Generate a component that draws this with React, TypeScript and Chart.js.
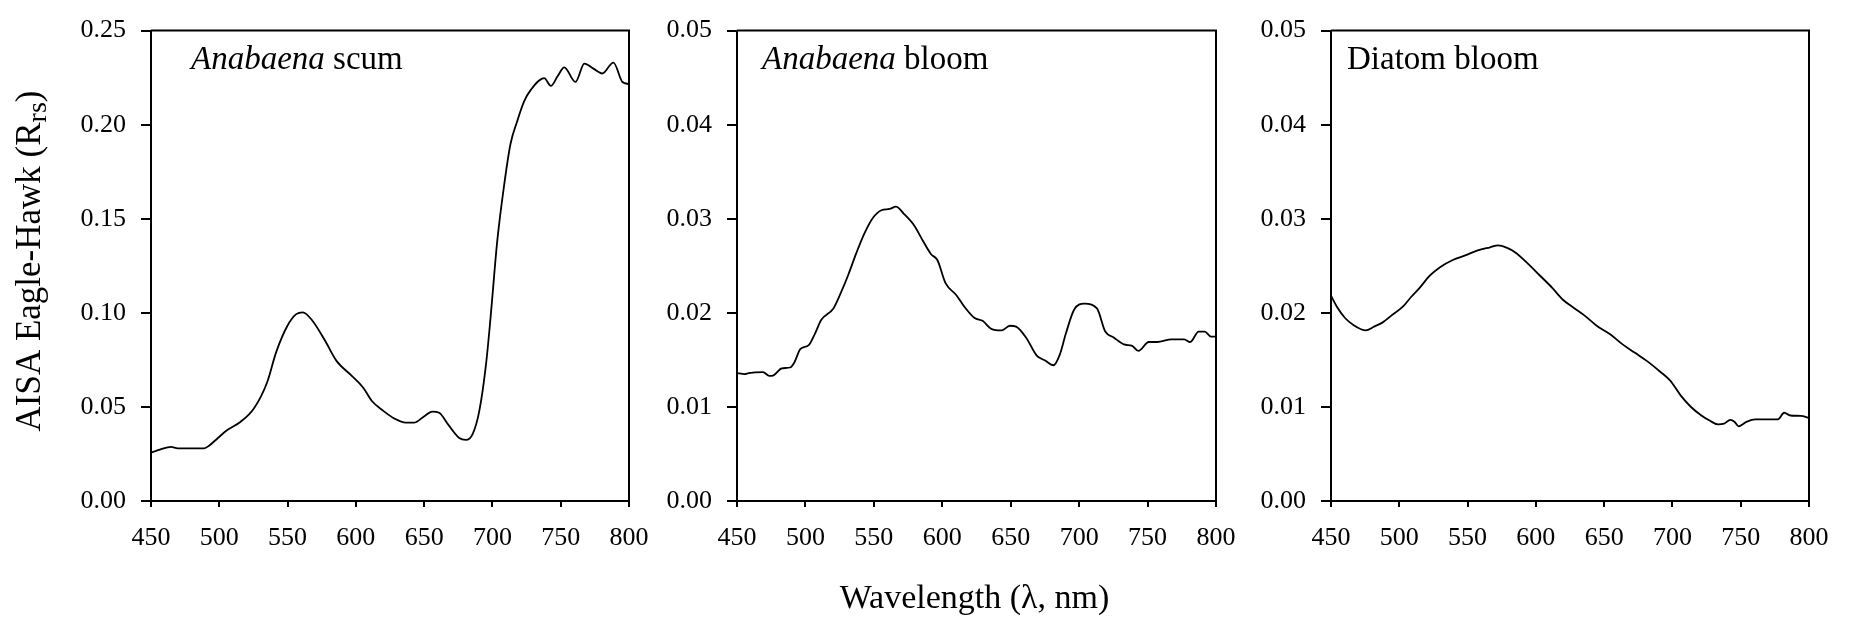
import React, { useEffect, useRef } from 'react';
import { Chart, registerables } from 'chart.js';

Chart.register(...registerables);

// ---------- data ----------
const scumWavelength = [450, 456.5, 464.7, 469.6, 489, 492.5, 499, 505.6, 515.4, 525.2, 535, 541.6, 549.8, 556.3, 561.2, 567.8, 577.6, 585.7, 597.2, 605.4, 611.9, 620.1, 628.3, 636.5, 643, 649.6, 656.1, 661, 667.5, 675.7, 680.6, 685.5, 690.4, 695.3, 698.6, 703.5, 708.4, 713.3, 718.2, 723.2, 728.1, 737.9, 742.8, 747.7, 752.6, 760.8, 767.3, 773.9, 780.4, 788.6, 795.2, 800];
const scumReflectance = [0.0257, 0.0273, 0.0288, 0.028, 0.028, 0.0294, 0.0335, 0.0376, 0.042, 0.049, 0.063, 0.079, 0.093, 0.0993, 0.1003, 0.0962, 0.085, 0.0746, 0.0664, 0.0602, 0.053, 0.0479, 0.0438, 0.0417, 0.0417, 0.0448, 0.0475, 0.0469, 0.0407, 0.0335, 0.0325, 0.0356, 0.0479, 0.0726, 0.0972, 0.138, 0.167, 0.19, 0.202, 0.2124, 0.2185, 0.2247, 0.2206, 0.2257, 0.2305, 0.2227, 0.2325, 0.2298, 0.2272, 0.233, 0.2227, 0.2216];

const anabaenaBloomWavelength = [450, 455.5, 458.5, 469, 473.6, 476.7, 482.7, 488.8, 491.8, 496.4, 502.4, 507, 511.5, 520.6, 525.2, 531.2, 537.3, 543.3, 549.4, 555.5, 561.5, 566.1, 572.1, 579.7, 585.8, 591.8, 596.4, 602.4, 610, 616, 623.6, 629.7, 635.8, 643.3, 649.4, 653.9, 661.5, 669, 675.2, 681.2, 685.8, 690.3, 696.4, 704, 713, 719.1, 725.2, 732.7, 738.8, 743.3, 750.9, 757, 767.6, 776.7, 781.2, 787.3, 791.8, 796.4, 800];
const anabaenaBloomReflectance = [0.0136, 0.01349, 0.0136, 0.0137, 0.0133, 0.01336, 0.0141, 0.01419, 0.0147, 0.01616, 0.01657, 0.0178, 0.01924, 0.0205, 0.0219, 0.024, 0.0264, 0.0285, 0.0301, 0.0309, 0.03104, 0.03129, 0.0305, 0.02924, 0.02767, 0.02623, 0.02562, 0.02315, 0.02192, 0.02068, 0.01945, 0.01912, 0.0183, 0.01813, 0.01863, 0.01854, 0.01731, 0.01546, 0.01493, 0.01443, 0.01554, 0.0178, 0.02035, 0.02097, 0.02048, 0.01801, 0.01739, 0.01665, 0.01649, 0.01595, 0.0169, 0.0169, 0.01719, 0.01719, 0.0169, 0.01801, 0.01801, 0.01748, 0.01748];

const diatomBloomWavelength = [450, 454.2, 460.3, 466.4, 475.5, 481.5, 487.6, 493.7, 502.8, 508.8, 514.9, 522.5, 530.1, 539.2, 548.3, 557.4, 566.5, 572.5, 578.6, 584.7, 593.8, 602.9, 612, 619.6, 627.1, 636.2, 645.3, 654.4, 663.5, 672.6, 681.7, 690.8, 698.4, 706, 713.6, 721.2, 727.2, 733.3, 737.8, 742.4, 745.4, 748.4, 754.5, 760.6, 769.7, 777.3, 781.8, 786.4, 794, 800];
const diatomBloomReflectance = [0.02183, 0.02068, 0.01945, 0.01871, 0.01813, 0.01854, 0.01896, 0.01965, 0.02068, 0.02171, 0.02266, 0.02397, 0.02488, 0.02562, 0.02611, 0.02664, 0.02697, 0.02718, 0.02693, 0.02644, 0.02529, 0.02397, 0.02266, 0.02142, 0.0206, 0.01965, 0.01854, 0.01772, 0.01665, 0.01575, 0.01484, 0.01377, 0.01279, 0.01123, 0.00999, 0.00909, 0.00855, 0.00814, 0.00822, 0.00863, 0.00843, 0.00794, 0.00843, 0.00868, 0.00868, 0.00868, 0.00938, 0.00909, 0.00905, 0.00884];

const xTicks = [450, 500, 550, 600, 650, 700, 750, 800];
const yTicksScum = [0, 0.05, 0.1, 0.15, 0.2, 0.25];
const yTicksBloom = [0, 0.01, 0.02, 0.03, 0.04, 0.05];

const yAxisTitleMain = 'AISA Eagle-Hawk (R';
const yAxisTitleSub = 'rs';
const yAxisTitleEnd = ')';
const xAxisTitle = 'Wavelength (\u03bb, nm)';

// ---------- layout ----------
const FONT = "'Liberation Serif', 'Times New Roman', Times, serif";
const CANVAS_H = 617;
const PLOT_TOP = 22;
const PLOT_BOTTOM = 501;

type Panel = {
  left: number;
  width: number;
  yAxisWidth: number;
  rightPad: number;
  wl: number[];
  refl: number[];
  yTicks: number[];
  italic: string;
  rest: string;
  labelDx: number;
  yTitle?: boolean;
  xTitle?: boolean;
};

const panels: Panel[] = [
  { left: 0, width: 680, yAxisWidth: 151, rightPad: 51, wl: scumWavelength, refl: scumReflectance, yTicks: yTicksScum, italic: 'Anabaena', rest: ' scum', labelDx: 40, yTitle: true },
  { left: 640, width: 620, yAxisWidth: 97, rightPad: 44, wl: anabaenaBloomWavelength, refl: anabaenaBloomReflectance, yTicks: yTicksBloom, italic: 'Anabaena', rest: ' bloom', labelDx: 25, xTitle: true },
  { left: 1235, width: 615, yAxisWidth: 96, rightPad: 41, wl: diatomBloomWavelength, refl: diatomBloomReflectance, yTicks: yTicksBloom, italic: '', rest: 'Diatom bloom', labelDx: 16 },
];

function PanelChart({ p }: { p: Panel }) {
  const ref = useRef<HTMLCanvasElement | null>(null);
  useEffect(() => {
    if (!ref.current) return;
    const decor = {
      id: 'decor',
      afterDraw(chart: any) {
        const ctx = chart.ctx as CanvasRenderingContext2D;
        const a = chart.chartArea;
        ctx.save();
        // frame (top and right)
        ctx.strokeStyle = '#000';
        ctx.lineWidth = 2;
        ctx.beginPath();
        ctx.moveTo(a.left, a.top);
        ctx.lineTo(a.right, a.top);
        ctx.lineTo(a.right, a.bottom);
        ctx.stroke();
        // panel label
        ctx.fillStyle = '#000';
        ctx.textBaseline = 'alphabetic';
        ctx.textAlign = 'left';
        let x = a.left + p.labelDx;
        const y = 69;
        if (p.italic) {
          ctx.font = `italic 33px ${FONT}`;
          ctx.fillText(p.italic, x, y);
          x += ctx.measureText(p.italic).width;
        }
        ctx.font = `33px ${FONT}`;
        ctx.fillText(p.rest, x, y);
        // y axis title
        if (p.yTitle) {
          ctx.save();
          ctx.translate(28, 261);
          ctx.rotate(-Math.PI / 2);
          ctx.font = `35px ${FONT}`;
          const w1 = ctx.measureText(yAxisTitleMain).width;
          const w3 = ctx.measureText(yAxisTitleEnd).width;
          ctx.font = `28px ${FONT}`;
          const w2 = ctx.measureText(yAxisTitleSub).width;
          const total = w1 + w2 + w3;
          let tx = -total / 2;
          ctx.font = `35px ${FONT}`;
          ctx.fillText(yAxisTitleMain, tx, 12);
          tx += w1;
          ctx.font = `28px ${FONT}`;
          ctx.fillText(yAxisTitleSub, tx, 18);
          tx += w2;
          ctx.font = `35px ${FONT}`;
          ctx.fillText(yAxisTitleEnd, tx, 12);
          ctx.restore();
        }
        if (p.xTitle) {
          ctx.font = `34px ${FONT}`;
          ctx.textAlign = 'center';
          ctx.fillText(xAxisTitle, (a.left + a.right) / 2 - 2, 608);
        }
        ctx.restore();
      },
    };
    const yMax = p.yTicks[p.yTicks.length - 1];
    const chart = new Chart(ref.current, {
      type: 'line',
      data: {
        datasets: [
          {
            data: p.wl.map((w, i) => ({ x: w, y: p.refl[i] })),
            borderColor: '#000',
            borderWidth: 1.8,
            pointRadius: 0,
            fill: false,
            cubicInterpolationMode: 'monotone',
          },
        ],
      },
      options: {
        animation: false,
        responsive: false,
        devicePixelRatio: 1,
        events: [],
        layout: { padding: { left: 0, right: p.rightPad, top: PLOT_TOP, bottom: 0 } },
        plugins: { legend: { display: false }, tooltip: { enabled: false }, title: { display: false } },
        scales: {
          x: {
            type: 'linear',
            min: 450,
            max: 800,
            afterBuildTicks: (scale: any) => {
              scale.ticks = xTicks.map((v) => ({ value: v }));
            },
            afterFit: (scale: any) => {
              scale.height = CANVAS_H - PLOT_BOTTOM;
            },
            grid: { display: true, drawOnChartArea: false, drawTicks: true, tickLength: 6, color: '#000', lineWidth: 2 },
            border: { display: true, color: '#000', width: 2 },
            ticks: {
              color: '#000',
              font: { family: FONT, size: 26 },
              padding: 16,
              maxRotation: 0,
              autoSkip: false,
              callback: (v: any) => String(v),
            },
          },
          y: {
            type: 'linear',
            min: 0,
            max: yMax,
            afterBuildTicks: (scale: any) => {
              scale.ticks = p.yTicks.map((v) => ({ value: v }));
            },
            afterFit: (scale: any) => {
              scale.width = p.yAxisWidth;
            },
            grid: { display: true, drawOnChartArea: false, drawTicks: true, tickLength: 10, color: '#000', lineWidth: 2 },
            border: { display: true, color: '#000', width: 2 },
            ticks: {
              color: '#000',
              font: { family: FONT, size: 26 },
              padding: 15,
              autoSkip: false,
              callback: (v: any) => Number(v).toFixed(2),
            },
          },
        },
      },
      plugins: [decor],
    } as any);
    return () => chart.destroy();
  }, [p]);
  return (
    <canvas
      ref={ref}
      width={p.width}
      height={CANVAS_H}
      style={{ position: 'absolute', left: p.left, top: 0, width: p.width, height: CANVAS_H }}
    />
  );
}

export default function App() {
  return (
    <div style={{ position: 'absolute', left: 0, top: 0, width: 1850, height: CANVAS_H, background: '#fff', overflow: 'hidden' }}>
      {panels.map((p, i) => (
        <PanelChart key={i} p={p} />
      ))}
    </div>
  );
}
